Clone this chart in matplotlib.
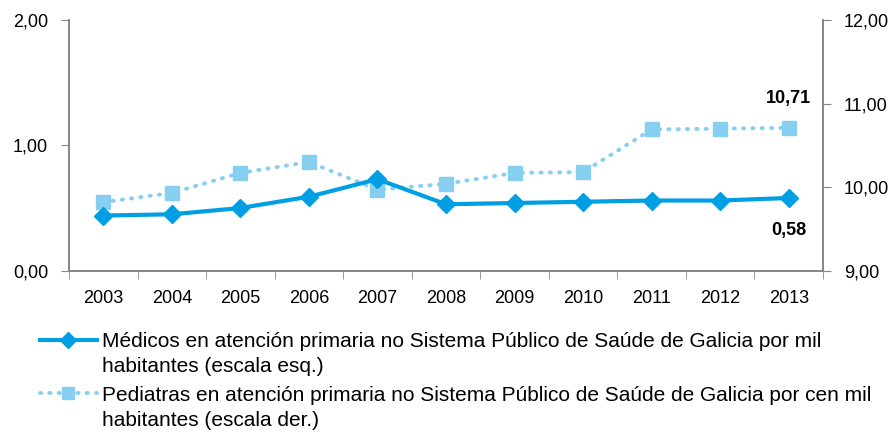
import matplotlib
matplotlib.use("Agg")
import matplotlib.pyplot as plt
from matplotlib.ticker import FixedLocator, FuncFormatter

plt.rcParams['font.family'] = ['Liberation Sans', 'DejaVu Sans']

years = ['2003', '2004', '2005', '2006', '2007', '2008', '2009', '2010', '2011', '2012', '2013']
medicos = [0.44, 0.45, 0.50, 0.59, 0.73, 0.53, 0.54, 0.55, 0.56, 0.56, 0.58]
pediatras = [9.82, 9.93, 10.17, 10.30, 9.97, 10.04, 10.17, 10.18, 10.69, 10.70, 10.71]
label_med = 'Médicos en atención primaria no Sistema Público de Saúde de Galicia por mil\nhabitantes (escala esq.)'
label_ped = 'Pediatras en atención primaria no Sistema Público de Saúde de Galicia por cen mil\nhabitantes (escala der.)'

c_med = '#009fe3'
c_ped = '#87cff0'
c_axis = '#868686'

fig = plt.figure(figsize=(8.91, 4.32), dpi=100)
ax1 = fig.add_axes([69/891, 1 - 270.7/432, (823 - 69)/891, (270.7 - 20)/432])
ax2 = ax1.twinx()

x = range(len(years))
ax1.plot(x, medicos, color=c_med, lw=3, marker='D', ms=9, zorder=3)
ax2.plot(x, pediatras, color=c_ped, lw=2.8, ls=(0, (0.3, 2.1)), dash_capstyle='round',
         marker='s', ms=9.5, zorder=2)
ax1.set_zorder(ax2.get_zorder() + 1)
ax1.patch.set_visible(False)

ax1.set_xlim(-0.5, len(years) - 0.5)
ax1.set_ylim(0, 2)
ax2.set_ylim(9, 12)
ax1.set_yticks([0, 1, 2])
ax2.set_yticks([9, 10, 11, 12])
comma = FuncFormatter(lambda v, p: f'{v:.2f}'.replace('.', ','))
ax1.yaxis.set_major_formatter(comma)
ax2.yaxis.set_major_formatter(comma)

ax1.set_xticks(list(x))
ax1.set_xticklabels(years)
ax1.xaxis.set_minor_locator(FixedLocator([i - 0.5 for i in range(len(years) + 1)]))
ax1.tick_params(axis='x', which='major', length=0, pad=14, labelsize=13)
ax1.tick_params(axis='x', which='minor', length=6, direction='out', color=c_axis)
ax1.tick_params(axis='y', length=6, color=c_axis, pad=9, labelsize=13)
ax2.tick_params(axis='y', length=6, color=c_axis, pad=9, labelsize=13)

for a in (ax1, ax2):
    a.spines['top'].set_visible(False)
    for s in ('left', 'right', 'bottom'):
        a.spines[s].set_color(c_axis)
        a.spines[s].set_linewidth(1.2)

ax2.annotate(f'{pediatras[-1]:.2f}'.replace('.', ','), (len(years) - 1, pediatras[-1]),
             xytext=(0, 15), textcoords='offset points', ha='center', va='bottom',
             fontsize=13, fontweight='bold')
ax1.annotate(f'{medicos[-1]:.2f}'.replace('.', ','), (len(years) - 1, medicos[-1]),
             xytext=(0, -17), textcoords='offset points', ha='center', va='top',
             fontsize=13, fontweight='bold')

# legend drawn by hand so the key sits on the first text line
lax = fig.add_axes([0, 0, 1, 1])
lax.set_xlim(0, 891)
lax.set_ylim(432, 0)
lax.axis('off')
lax.plot([40, 97], [340, 340], color=c_med, lw=3)
lax.plot([68], [340], color=c_med, marker='D', ms=8)
lax.plot([40, 97], [393, 393], color=c_ped, lw=2.8, ls=(0, (0.3, 2.1)), dash_capstyle='round')
lax.plot([68], [393], color=c_ped, marker='s', ms=9)
lax.text(102, 332, label_med, fontsize=15, ha='left', va='top', linespacing=1.38)
lax.text(102, 386, label_ped, fontsize=15, ha='left', va='top', linespacing=1.38)

fig.savefig('out.png', dpi=100)
